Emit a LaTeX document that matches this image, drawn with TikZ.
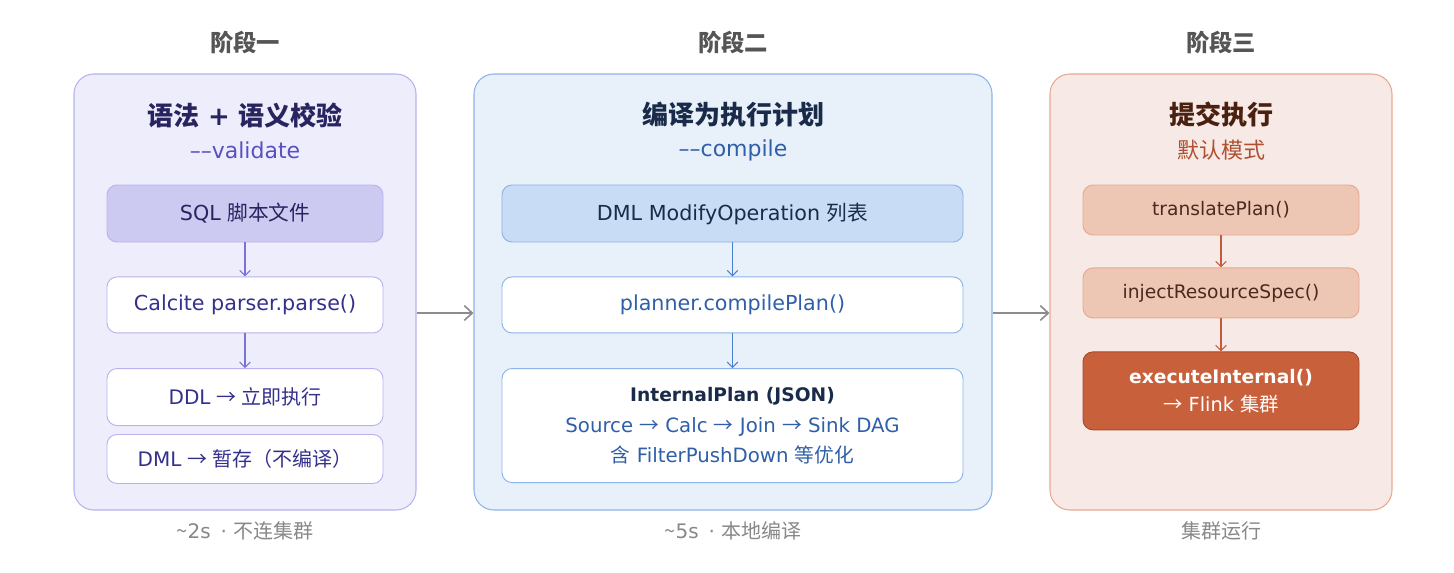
\documentclass[tikz,border=0pt]{standalone}
\usepackage{fontspec}
\setmainfont{DejaVu Sans}
\newfontfamily\cjk{Noto Sans CJK SC}
\newcommand{\zh}[1]{{\cjk #1}}
\usetikzlibrary{arrows.meta,positioning}
\definecolor{stagegray}{RGB}{85,85,85}
\definecolor{footgray}{RGB}{136,136,136}
\definecolor{hopgray}{RGB}{140,140,140}
% stage one (violet)
\definecolor{vioFill}{RGB}{238,237,252}
\definecolor{vioLine}{RGB}{184,178,238}
\definecolor{vioHead}{RGB}{40,36,96}
\definecolor{vioSub}{RGB}{90,80,192}
\definecolor{vioBox}{RGB}{205,202,242}
\definecolor{vioText}{RGB}{52,48,140}
\definecolor{vioArr}{RGB}{123,114,216}
% stage two (blue)
\definecolor{bluFill}{RGB}{232,240,250}
\definecolor{bluLine}{RGB}{141,180,232}
\definecolor{bluHead}{RGB}{26,43,74}
\definecolor{bluSub}{RGB}{47,95,168}
\definecolor{bluBox}{RGB}{200,220,245}
\definecolor{bluArr}{RGB}{74,128,208}
% stage three (terracotta)
\definecolor{terFill}{RGB}{247,234,230}
\definecolor{terLine}{RGB}{232,168,144}
\definecolor{terHead}{RGB}{74,32,16}
\definecolor{terSub}{RGB}{176,80,48}
\definecolor{terBox}{RGB}{238,198,180}
\definecolor{terText}{RGB}{74,42,32}
\definecolor{terArr}{RGB}{200,90,60}
\definecolor{terHot}{RGB}{201,96,60}
\definecolor{terHotLine}{RGB}{168,72,40}
\tikzset{
  panel/.style={draw,rounded corners=15pt,line width=0.8pt,inner sep=0pt,
    minimum height=327pt},
  stage/.style={font=\fontsize{17.5}{21}\selectfont\cjk\bfseries,text=stagegray},
  ptitle/.style={font=\fontsize{19.5}{23}\selectfont\bfseries},
  psub/.style={font=\fontsize{16.5}{20}\selectfont},
  box/.style={draw,rounded corners=7.5pt,line width=0.7pt,inner sep=0pt,
    align=center,font=\fontsize{15.5}{19}\selectfont},
  midsize/.style={font=\fontsize{15}{18}\selectfont},
  slim/.style={font=\fontsize{14}{17}\selectfont},
  foot/.style={font=\fontsize{15}{18}\selectfont,text=footgray},
  flow/.style={-{Straight Barb[length=4pt,width=8pt]},line width=0.8pt},
  hop/.style={-{Straight Barb[length=6pt,width=11pt]},line width=1.2pt,draw=hopgray},
}
\begin{document}
\begin{tikzpicture}[x=0.75pt,y=-0.75pt]
\useasboundingbox[fill=white] (0,0) rectangle (1454,572);

% stage labels
\node[stage] (s1) at (245,43) {阶段一};
\node[stage] (s2) at (733,43) {阶段二};
\node[stage] (s3) at (1221,43) {阶段三};

% panels
\node[panel,draw=vioLine,fill=vioFill,minimum width=256.5pt] (P1) at (245,292) {};
\node[panel,draw=bluLine,fill=bluFill,minimum width=388.5pt] (P2) at (733,292) {};
\node[panel,draw=terLine,fill=terFill,minimum width=256.5pt] (P3) at (1221,292) {};

% stage one: validate
\node[ptitle,text=vioHead] (t1) at (245,115) {\zh{语法} + \zh{语义校验}};
\node[psub,text=vioSub] (u1) at (245,150) {\textendash\textendash{}validate};
\node[box,draw=vioLine,fill=vioBox,text=vioHead,minimum width=207pt,minimum height=42.75pt]
  (sql) at (245,213.5) {SQL \zh{脚本文件}};
\node[box,draw=vioLine,fill=white,text=vioText,minimum width=207pt,minimum height=42pt,
  below=25.5pt of sql] (parse) {Calcite parser.parse()};
\node[box,midsize,draw=vioLine,fill=white,text=vioText,minimum width=207pt,minimum height=42.75pt,
  below=26pt of parse] (ddl) {DDL \zh{→ 立即执行}};
\node[box,midsize,draw=vioLine,fill=white,text=vioText,minimum width=207pt,minimum height=36.75pt,
  below=6pt of ddl] (dml) {DML \zh{→ 暂存（不编译）}};
\node[foot] (f1) at (245,531) {\zh{\textasciitilde}2s\enspace· \zh{不连集群}};

% stage two: compile
\node[ptitle,text=bluHead] (t2) at (733,115) {\zh{编译为执行计划}};
\node[psub,text=bluSub] (u2) at (733,150) {\textendash\textendash{}compile};
\node[box,draw=bluLine,fill=bluBox,text=bluHead,minimum width=345.75pt,minimum height=42.75pt]
  (ops) at (732.5,213.5) {DML ModifyOperation \zh{列表}};
\node[box,draw=bluLine,fill=white,text=bluSub,minimum width=345.75pt,minimum height=42pt,
  below=25.5pt of ops] (cplan) {planner.compilePlan()};
\node[box,draw=bluLine,fill=white,text=bluSub,minimum width=345.75pt,minimum height=85.5pt,
  font=\fontsize{14.8}{22.5}\selectfont,below=26pt of cplan] (iplan)
  {\textcolor{bluHead}{\fontsize{14}{17}\selectfont\bfseries InternalPlan (JSON)}\\[1pt]
   Source \zh{→} Calc \zh{→} Join \zh{→} Sink DAG\\
   \zh{含} FilterPushDown \zh{等优化}};
\node[foot] (f2) at (733,531) {\zh{\textasciitilde}5s\enspace· \zh{本地编译}};

% stage three: submit
\node[ptitle,text=terHead] (t3) at (1221,115) {\zh{提交执行}};
\node[psub,text=terSub] (u3) at (1221,150) {\zh{默认模式}};
\node[box,slim,draw=terLine,fill=terBox,text=terText,minimum width=207pt,minimum height=37.5pt]
  (trans) at (1221,210) {translatePlan()};
\node[box,slim,draw=terLine,fill=terBox,text=terText,minimum width=207pt,minimum height=37.5pt,
  below=24pt of trans] (inject) {injectResourceSpec()};
\node[box,draw=terHotLine,fill=terHot,text=white,minimum width=207pt,minimum height=58.5pt,
  font=\fontsize{14.5}{21}\selectfont,below=24.75pt of inject] (exec)
  {{\fontsize{14}{17}\selectfont\bfseries executeInternal()}\\\zh{→} Flink \zh{集群}};
\node[foot] (f3) at (1221,531) {\zh{集群运行}};

% inner flows
\draw[flow,vioArr] (sql) -- (parse);
\draw[flow,vioArr] (parse) -- (ddl);
\draw[flow,bluArr] (ops) -- (cplan);
\draw[flow,bluArr] (cplan) -- (iplan);
\draw[flow,terArr] (trans) -- (inject);
\draw[flow,terArr] (inject) -- (exec);

% stage hops
\draw[hop] (P1.east |- 0,313) -- (P2.west |- 0,313);
\draw[hop] (P2.east |- 0,313) -- (P3.west |- 0,313);
\end{tikzpicture}
\end{document}
